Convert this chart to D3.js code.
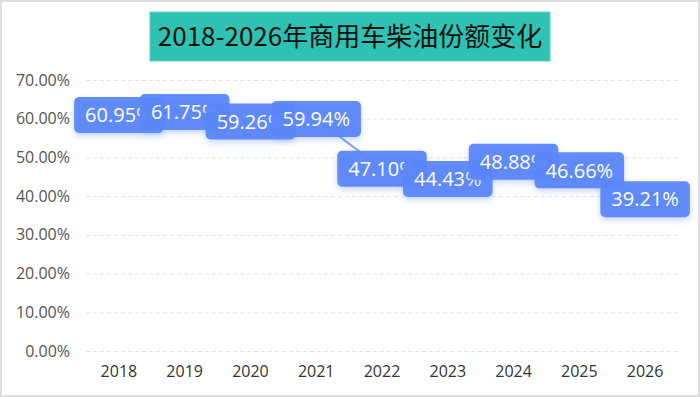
<!DOCTYPE html>
<html lang="zh">
<head>
    <meta charset="UTF-8">
    <title>2018-2026年商用车柴油份额变化</title>
    <script src="https://cdn.jsdelivr.net/npm/d3@7"></script>
    <style>
        body { margin: 0; background: #fff; }
        #chart { font-family: "Noto Sans CJK SC", "Noto Sans", sans-serif; }
    </style>
</head>
<body>
<div id="chart"></div>
<script>
    const width = 700
    const height = 397

    const years = ["2018", "2019", "2020", "2021", "2022", "2023", "2024", "2025", "2026"]
    const shares = [60.95, 61.75, 59.26, 59.94, 47.10, 44.43, 48.88, 46.66, 39.21]
    const yTicks = [0, 10, 20, 30, 40, 50, 60, 70]
    const title = "2018-2026年商用车柴油份额变化"

    const margin = {top: 80, right: 22, bottom: 46, left: 86}
    const blue = "#5a86fa"
    const numFont = "'Open Sans', 'Noto Sans', sans-serif"

    const svg = d3.select("#chart")
        .append("svg")
        .attr("width", width)
        .attr("height", height)
        .attr("viewBox", `0 0 ${width} ${height}`)

    // frame round the picture
    svg.append("rect")
        .attr("x", 1).attr("y", 1)
        .attr("width", width - 2).attr("height", height - 2)
        .attr("fill", "#fff")
        .attr("stroke", "#dedede")
        .attr("stroke-width", 2)

    const defs = svg.append("defs")
    const shadow = defs.append("filter")
        .attr("id", "glow")
        .attr("x", "-30%").attr("y", "-40%")
        .attr("width", "160%").attr("height", "200%")
    shadow.append("feDropShadow")
        .attr("dx", 0).attr("dy", 3)
        .attr("stdDeviation", 3)
        .attr("flood-color", blue)
        .attr("flood-opacity", 0.35)

    const x = d3.scaleBand()
        .domain(years)
        .range([margin.left, width - margin.right])

    const y = d3.scaleLinear()
        .domain([0, 70])
        .range([height - margin.bottom, margin.top])

    // title
    const titleG = svg.append("g")
    titleG.append("rect")
        .attr("x", 150).attr("y", 12)
        .attr("width", 400).attr("height", 49)
        .attr("fill", "#2fc1b1")
        .attr("stroke", "#5fd3c6")
    titleG.append("text")
        .attr("x", 350).attr("y", 46)
        .attr("text-anchor", "middle")
        .attr("font-size", 26)
        .attr("fill", "#111")
        .text(title)

    // y axis with dashed grid
    const yAxis = svg.append("g")
        .attr("transform", `translate(${margin.left},0)`)
        .call(d3.axisLeft(y)
            .tickValues(yTicks)
            .tickSize(-(width - margin.left - margin.right))
            .tickPadding(16)
            .tickFormat(d => d.toFixed(2) + "%"))
    yAxis.select(".domain").remove()
    yAxis.selectAll(".tick line")
        .attr("stroke", "#e3e3e3")
        .attr("stroke-dasharray", "4,3")
    yAxis.selectAll(".tick text")
        .attr("fill", "#555")
        .attr("font-size", 16)
        .attr("font-family", numFont)

    // x axis
    const xAxis = svg.append("g")
        .attr("transform", `translate(0,${height - margin.bottom})`)
        .call(d3.axisBottom(x).tickSize(0).tickPadding(15))
    xAxis.select(".domain").remove()
    xAxis.selectAll(".tick text")
        .attr("fill", "#333")
        .attr("font-size", 16)
        .attr("font-family", numFont)

    const pts = years.map((d, i) => ({year: d, v: shares[i]}))

    // line under the labels
    svg.append("path")
        .datum(pts)
        .attr("fill", "none")
        .attr("stroke", blue)
        .attr("stroke-opacity", 0.8)
        .attr("stroke-width", 2)
        .attr("d", d3.line()
            .x(d => x(d.year) + x.bandwidth() / 2)
            .y(d => y(d.v)))

    // label boxes
    const labels = svg.append("g").selectAll("g")
        .data(pts)
        .enter()
        .append("g")
        .attr("transform", d => `translate(${x(d.year) + x.bandwidth() / 2},${y(d.v)})`)

    labels.each(function (d) {
        const g = d3.select(this)
        const rect = g.append("rect")
        const t = g.append("text")
            .attr("text-anchor", "middle")
            .attr("dy", "0.36em")
            .attr("font-size", 20)
            .attr("font-family", numFont)
            .attr("fill", "#fff")
            .text(d.v.toFixed(2) + "%")
        const w = t.node().getComputedTextLength() + 22
        rect.attr("x", -w / 2).attr("y", -18)
            .attr("width", w).attr("height", 36)
            .attr("rx", 5)
            .attr("fill", blue)
            .attr("fill-opacity", 0.94)
            .attr("filter", "url(#glow)")
    })
</script>
</body>
</html>
